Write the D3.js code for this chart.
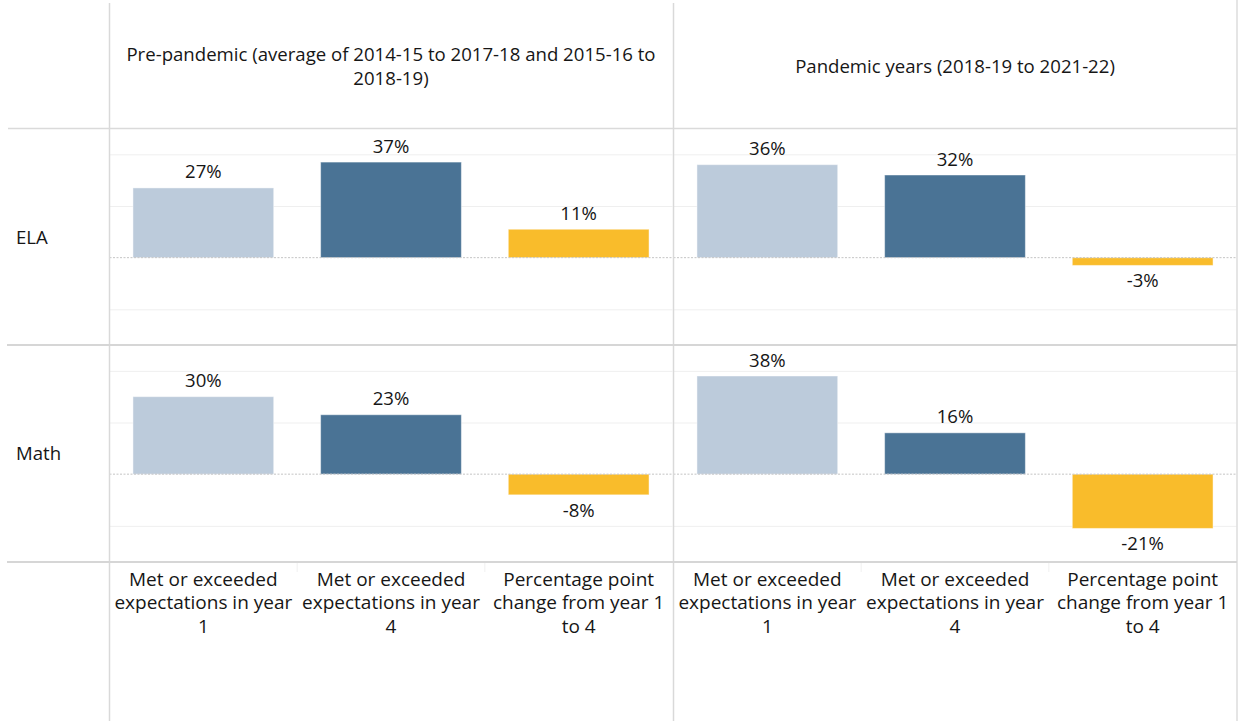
<!DOCTYPE html>
<html>
<head>
<meta charset="utf-8">
<script src="https://cdn.jsdelivr.net/npm/d3@7"></script>
<style>
  html, body { margin: 0; padding: 0; background: #ffffff; }
  svg { display: block; font-family: "Open Sans", "DejaVu Sans", sans-serif; }
</style>
</head>
<body>
<svg id="chart" width="1241" height="721"></svg>
<script>
// Column headers (periods), row headers (subjects) and the three measures
const periods = [
  ["Pre-pandemic (average of 2014-15 to 2017-18 and 2015-16 to", "2018-19)"],
  ["Pandemic years (2018-19 to 2021-22)"]
];
const subjects = ["ELA", "Math"];
const measures = ["year1", "year4", "change"];
const measureLabels = [
  ["Met or exceeded", "expectations in year", "1"],
  ["Met or exceeded", "expectations in year", "4"],
  ["Percentage point", "change from year 1", "to 4"]
];

// Percent values per subject and period: year 1, year 4, change
const elaPrePandemic = [27, 37, 11];
const elaPandemic = [36, 32, -3];
const mathPrePandemic = [30, 23, -8];
const mathPandemic = [38, 16, -21];

const valueTable = [
  [elaPrePandemic, elaPandemic],
  [mathPrePandemic, mathPandemic]
];

const gridTicks = [-20, 0, 20, 40];
const barColors = ["#bccbdb", "#4a7395", "#f9bc2b"];

const svg = d3.select("#chart");
const W = 1241, H = 721;
svg.append("rect").attr("width", W).attr("height", H).attr("fill", "#fff");

// Table layout
const labelColW = 109.5;
const panelX = [109.5, 673.5];
const panelW = 563;
const headerBottom = 128.5;
const rowTops = [128.5, 345];
const rowH = 217;
const axisTop = 562;

const x = d3.scaleBand()
  .domain(measures)
  .range([0, panelW])
  .paddingInner(0.25)
  .paddingOuter(0.125);

const textColor = "#161616";
const fs = 18.6;
const pct = v => `${Math.round(v)}%`;

subjects.forEach((subject, ri) => {
  const top = rowTops[ri];
  const y = d3.scaleLinear().domain([-34, 50]).range([top + rowH, top]);

  periods.forEach((p, pi) => {
    const g = svg.append("g").attr("transform", `translate(${panelX[pi]},0)`);

    // light gridlines
    g.append("g")
      .call(d3.axisLeft(y).tickValues(gridTicks.filter(t => t !== 0)).tickSize(-panelW).tickFormat(""))
      .call(s => s.select(".domain").remove())
      .call(s => s.selectAll(".tick line").attr("stroke", "#efefef").attr("stroke-width", 1));

    const vals = valueTable[ri][pi];

    g.selectAll("rect.bar")
      .data(measures.map((m, i) => ({ m, v: vals[i], i })))
      .join("rect")
      .attr("class", "bar")
      .attr("x", d => x(d.m))
      .attr("width", x.bandwidth())
      .attr("y", d => y(Math.max(0, d.v)))
      .attr("height", d => Math.abs(y(d.v) - y(0)))
      .attr("fill", d => barColors[d.i])
      .attr("stroke", "rgba(255,255,255,0.45)")
      .attr("stroke-width", 1);

    // zero line
    g.append("line")
      .attr("x1", 0).attr("x2", panelW)
      .attr("y1", y(0)).attr("y2", y(0))
      .attr("stroke", "#c4c4c4")
      .attr("stroke-width", 1)
      .attr("stroke-dasharray", "2,1.5");

    // value labels
    g.selectAll("text.val")
      .data(measures.map((m, i) => ({ m, v: vals[i] })))
      .join("text")
      .attr("class", "val")
      .attr("x", d => x(d.m) + x.bandwidth() / 2)
      .attr("y", d => d.v >= 0 ? y(d.v) - 9.5 : y(d.v) + 22)
      .attr("text-anchor", "middle")
      .attr("font-size", fs)
      .attr("fill", textColor)
      .text(d => pct(d.v));
  });

  // row header
  svg.append("text")
    .attr("x", 16)
    .attr("y", top + rowH / 2 + 6.5)
    .attr("font-size", fs)
    .attr("fill", textColor)
    .text(subject);
});

// column headers
periods.forEach((lines, pi) => {
  const cx = panelX[pi] + panelW / 2;
  const lh = 24;
  const startY = 66 + 6.5 - (lines.length - 1) * lh / 2;
  const t = svg.append("text")
    .attr("text-anchor", "middle")
    .attr("font-size", fs)
    .attr("fill", textColor);
  lines.forEach((ln, k) => {
    t.append("tspan").attr("x", cx).attr("y", startY + k * lh).text(ln);
  });
});

// measure labels along the bottom
panelX.forEach(px => {
  const g = svg.append("g").attr("transform", `translate(${px},0)`);
  measures.forEach((m, i) => {
    const cx = x(m) + x.bandwidth() / 2;
    const t = g.append("text")
      .attr("text-anchor", "middle")
      .attr("font-size", 19)
      .attr("fill", textColor);
    measureLabels[i].forEach((ln, k) => {
      t.append("tspan").attr("x", cx).attr("y", 585.5 + k * 23.5).text(ln);
    });
    if (i > 0) {
      const sx = x.step() * i;
      g.append("line")
        .attr("x1", sx).attr("x2", sx)
        .attr("y1", axisTop + 1).attr("y2", axisTop + 10)
        .attr("stroke", "#f0f0f0");
    }
  });
});

// table borders
const border = svg.append("g").attr("fill", "none");
border.append("line").attr("x1", labelColW).attr("x2", labelColW).attr("y1", 3).attr("y2", H)
  .attr("stroke", "#d9d9d9").attr("stroke-width", 1.5);
border.append("line").attr("x1", panelX[1]).attr("x2", panelX[1]).attr("y1", 3).attr("y2", H)
  .attr("stroke", "#d9d9d9").attr("stroke-width", 1.5);
border.append("line").attr("x1", 1237).attr("x2", 1237).attr("y1", 0).attr("y2", H)
  .attr("stroke", "#dcdcdc").attr("stroke-width", 1.5);
border.append("line").attr("x1", 8).attr("x2", 1237).attr("y1", headerBottom).attr("y2", headerBottom)
  .attr("stroke", "#dadada").attr("stroke-width", 1.5);
[345, axisTop].forEach(yy => {
  border.append("line").attr("x1", 7).attr("x2", 1237).attr("y1", yy).attr("y2", yy)
    .attr("stroke", "#d6d6d6").attr("stroke-width", 2);
});
</script>
</body>
</html>
